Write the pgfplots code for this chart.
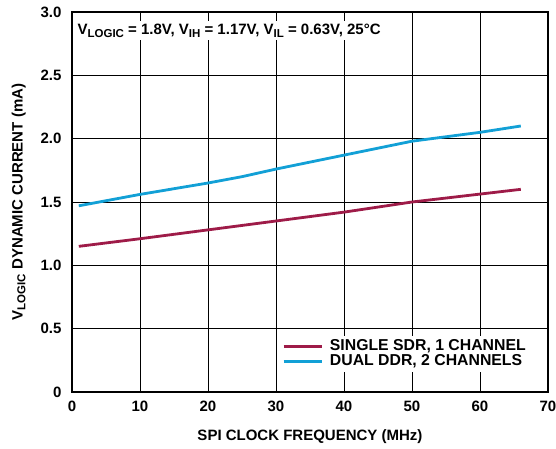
\documentclass[border=0pt]{standalone}
\usepackage{pgfplots}
\pgfplotsset{compat=1.18}
\usepackage{fontspec}
\setmainfont{Liberation Sans}
\definecolor{sdr}{RGB}{158,27,72}
\definecolor{ddr}{RGB}{18,160,214}
\newcommand{\sub}[1]{\raisebox{-0.35ex}{\fontsize{11.5}{12}\selectfont #1}}
\begin{document}
\begin{tikzpicture}
\useasboundingbox (-72pt,-56pt) rectangle (484pt,392pt);
\begin{axis}[
  at={(0pt,0pt)}, anchor=south west,
  scale only axis, width=476pt, height=380pt,
  xmin=0, xmax=70, ymin=0, ymax=3,
  xtick={0,10,...,70}, ytick={0,0.5,...,3},
  yticklabel={\ifdim\tick pt=0pt 0\else\pgfmathprintnumber[fixed,fixed zerofill,precision=1]{\tick}\fi},
  /pgf/number format/assume math mode=true,
  ticklabel style={font=\fontsize{15}{17}\selectfont\bfseries},
  yticklabel style={xshift=-7pt},
  xticklabel style={yshift=-5pt},
  major tick length=0pt,
  grid=major, major grid style={black, line width=0.8pt},
  axis line style={black, line width=1.4pt},
  xlabel={SPI CLOCK FREQUENCY (MHz)},
  ylabel={V\sub{LOGIC} DYNAMIC CURRENT (mA)},
  label style={font=\fontsize{15}{17}\selectfont\bfseries},
  xlabel style={yshift=-12pt},
  ylabel style={yshift=8pt},
  legend style={at={(rel axis cs:0.962,0.052)}, anchor=south east, fill=white, draw=none,
     font=\fontsize{15.8}{15}\selectfont\bfseries, row sep=0pt, inner sep=3pt,
     nodes={inner sep=1pt, text depth=2.5pt, text height=10.5pt},
     /tikz/every odd column/.append style={column sep=6pt}},
  legend cell align=left,
  legend image code/.code={\draw[#1] (0pt,0pt) -- (38pt,0pt);},
]
\addplot[sdr, line width=2.8pt] coordinates {(1,1.15) (10,1.21) (20,1.28) (30,1.35) (40,1.42) (50,1.50) (66,1.60)};
\addlegendentry{SINGLE SDR, 1 CHANNEL}
\addplot[ddr, line width=2.8pt] coordinates {(1,1.47) (10,1.56) (20,1.65) (25,1.70) (30,1.76) (40,1.87) (50,1.98) (60,2.05) (66,2.10)};
\addlegendentry{DUAL DDR, 2 CHANNELS}
\node[anchor=west, fill=white, inner sep=3pt, font=\fontsize{15}{17}\selectfont\bfseries] at (rel axis cs:0.005,0.951)
  {V\sub{LOGIC} = 1.8V, V\sub{IH} = 1.17V, V\sub{IL} = 0.63V, 25°C};
\end{axis}
\end{tikzpicture}
\end{document}
